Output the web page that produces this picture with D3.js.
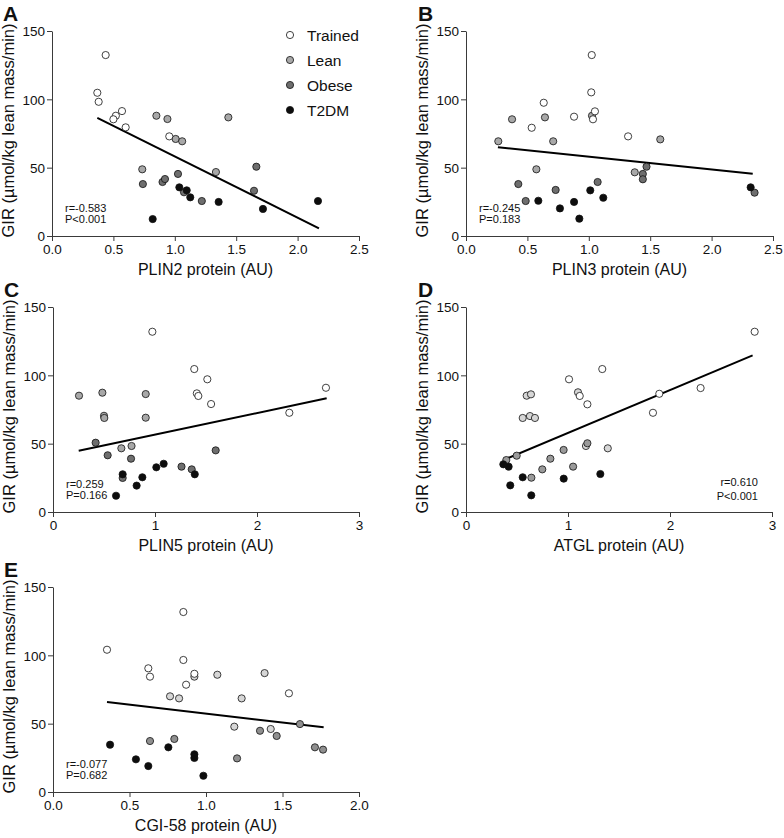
<!DOCTYPE html>
<html><head><meta charset="utf-8">
<script src="https://cdn.jsdelivr.net/npm/d3@7"></script>
<style>body{margin:0;background:#fff}svg{display:block}text{font-family:"Liberation Sans",Arial,sans-serif}</style>
</head><body>
<script>
// ---- Data (x = protein AU, y = GIR) ----
const groups = ["Trained", "Lean", "Obese", "T2DM"];
const yTicks = [0, 50, 100, 150];

// Panel A: PLIN2
const plin2_trained = [[0.437,132.4],[0.369,104.8],[0.38,98.2],[0.57,91.4],[0.52,88],[0.50,85.4],[0.60,79.5],[0.955,72.9]];
const plin2_lean = [[0.85,88],[0.94,85.6],[1.436,86.8],[1.007,71],[1.06,69.3],[0.735,48.8],[1.335,46.8]];
const plin2_obese = [[0.74,38],[0.90,39.5],[0.92,41.7],[1.026,45.4],[1.075,32],[1.22,25.6],[1.664,50.7],[1.645,33.1]];
const plin2_t2dm = [[1.037,35.6],[1.097,33.4],[1.126,28.3],[1.357,24.9],[0.82,12.4],[1.718,19.8],[2.166,25.6]];
const plin2_fit = [[0.369,86.5],[2.174,5.6]];

// Panel B: PLIN3
const plin3_trained = [[1.024,132.4],[1.02,105.1],[0.633,97.5],[1.05,91.2],[0.88,87.3],[1.034,85.4],[0.535,79.2],[1.32,72.9]];
const plin3_lean = [[1.026,88],[0.375,85.4],[0.643,86.8],[0.263,69.3],[0.71,69.3],[0.573,48.8],[1.582,70.7],[1.374,46.6]];
const plin3_obese = [[0.426,38],[0.73,33.7],[0.486,25.6],[1.072,39.5],[1.44,45.4],[1.44,41.5],[1.47,50.7],[2.35,31.7]];
const plin3_t2dm = [[0.589,25.8],[0.765,20.2],[0.88,24.9],[1.012,33.4],[1.118,28],[0.923,12.7],[2.318,35.6]];
const plin3_fit = [[0.26,65],[2.335,45.6]];

// Panel C: PLIN5
const plin5_trained = [[0.974,131.9],[1.385,104.6],[1.513,97.1],[1.41,86.8],[1.425,84.9],[1.55,79],[2.317,72.6],[2.676,90.9]];
const plin5_lean = [[0.255,85.1],[0.484,87.3],[0.909,86.3],[0.5,70.4],[0.503,68.8],[0.909,69],[0.67,46.6],[0.77,48.3]];
const plin5_obese = [[0.418,50.7],[0.536,41.5],[0.765,39],[0.683,24.9],[1.26,33.2],[1.36,31.2],[1.595,45.1]];
const plin5_t2dm = [[0.683,27.6],[0.876,25.4],[0.82,19.3],[1.013,32.7],[1.085,35.3],[1.39,27.6],[0.618,11.9]];
const plin5_fit = [[0.252,44.8],[2.683,83.2]];

// Panel D: ATGL
const atgl_trained = [[2.83,131.9],[1.336,104.6],[1.01,97.1],[2.3,90.7],[1.895,86.5],[1.115,84.9],[1.19,78.8],[1.833,72.6]];
const atgl_lean = [[1.098,87.6],[0.595,85.1],[0.637,86.1],[0.556,68.8],[0.627,70.2],[0.676,68.8],[1.176,48.3],[1.39,46.6]];
const atgl_obese = [[0.497,41.2],[0.395,38],[0.827,39],[0.957,45.4],[0.748,31.2],[1.05,33.2],[1.19,50.3],[0.641,25.1]];
const atgl_t2dm = [[0.366,34.9],[0.418,33.2],[0.556,25.4],[0.434,19.5],[0.64,12.2],[0.958,24.4],[1.317,27.8]];
const atgl_fit = [[0.39,38.8],[2.81,114.6]];

// Panel E: CGI-58
const cgi58_trained = [[0.852,131.7],[0.353,104.1],[0.852,96.6],[0.623,90.5],[0.634,84.4],[0.924,86.5],[0.87,78.5],[1.542,72.2]];
const cgi58_lean = [[0.924,84.4],[1.074,85.8],[1.383,87],[0.765,70],[0.824,68.5],[1.233,68.5],[1.185,47.8],[1.423,46.1]];
const cgi58_obese = [[1.353,44.8],[1.462,41],[1.614,49.7],[1.712,32.7],[1.765,31],[1.203,24.6],[0.634,37.3],[0.793,38.8]];
const cgi58_t2dm = [[0.373,34.6],[0.542,23.9],[0.623,19],[0.754,32.7],[0.924,27.6],[0.924,24.9],[0.983,11.9]];
const cgi58_fit = [[0.353,65.8],[1.769,47.3]];

const panelLetters = ["A","B","C","D","E"];
const xTitles = ["PLIN2 protein (AU)","PLIN3 protein (AU)","PLIN5 protein (AU)","ATGL protein (AU)","CGI-58 protein (AU)"];
const xMaxes = [2.5, 2.5, 3, 3, 2];
const xTickSets = [[0,0.5,1,1.5,2,2.5],[0,0.5,1,1.5,2,2.5],[0,1,2,3],[0,1,2,3],[0,0.5,1,1.5,2]];
const stats = [["r=-0.583","P<0.001"],["r=-0.245","P=0.183"],["r=0.259","P=0.166"],["r=0.610","P<0.001"],["r=-0.077","P=0.682"]];

// ---- Layout ----
const frames = [
  {l:52, r:359, t:31, b:236, fmt:".1f", statPos:"left", palette:["#ffffff","#a8a8a8","#6e6e6e","#0d0d0d"]},
  {l:466, r:773, t:31, b:236, fmt:".1f", statPos:"left", palette:["#ffffff","#a8a8a8","#6e6e6e","#0d0d0d"]},
  {l:53, r:359, t:307, b:512, fmt:"d", statPos:"left", palette:["#ffffff","#a8a8a8","#6e6e6e","#0d0d0d"]},
  {l:466, r:772, t:307, b:512, fmt:"d", statPos:"right", palette:["#ffffff","#d6d6d6","#9a9a9a","#0d0d0d"]},
  {l:53, r:359, t:587, b:792, fmt:".1f", statPos:"left", palette:["#ffffff","#d6d6d6","#8f8f8f","#0d0d0d"]}
];
const panelData = [
  [plin2_trained, plin2_lean, plin2_obese, plin2_t2dm, plin2_fit],
  [plin3_trained, plin3_lean, plin3_obese, plin3_t2dm, plin3_fit],
  [plin5_trained, plin5_lean, plin5_obese, plin5_t2dm, plin5_fit],
  [atgl_trained, atgl_lean, atgl_obese, atgl_t2dm, atgl_fit],
  [cgi58_trained, cgi58_lean, cgi58_obese, cgi58_t2dm, cgi58_fit]
];

const svg = d3.select("body").append("svg").attr("width",784).attr("height",838);
const axisColor = "#3a3a3a";

frames.forEach((f, i) => {
  const x = d3.scaleLinear().domain([0, xMaxes[i]]).range([f.l, f.r]);
  const y = d3.scaleLinear().domain([0, 150]).range([f.b, f.t]);
  const g = svg.append("g");

  // axes
  const xa = g.append("g").attr("transform",`translate(0,${f.b})`)
    .call(d3.axisBottom(x).tickValues(xTickSets[i]).tickFormat(d3.format(f.fmt)).tickSize(5).tickSizeOuter(0));
  const ya = g.append("g").attr("transform",`translate(${f.l},0)`)
    .call(d3.axisLeft(y).tickValues(yTicks).tickSize(5).tickSizeOuter(0));
  [xa, ya].forEach(a => {
    a.select(".domain").attr("stroke", axisColor).attr("stroke-width",1);
    a.selectAll(".tick line").attr("stroke", axisColor).attr("stroke-width",1);
    a.selectAll(".tick text").attr("fill","#111").style("font-size","13.5px")
      .style("font-family",'"Liberation Sans",Arial,sans-serif');
  });
  xa.selectAll(".tick text").attr("dy",null).attr("y",18);
  ya.selectAll(".tick text").attr("x",-7).attr("dy","0.36em");

  // titles
  g.append("text").attr("x",(f.l+f.r)/2).attr("y",f.b+39).attr("text-anchor","middle")
    .style("font-size","16px").attr("fill","#111").text(xTitles[i]);
  const labX = f.l - 38;
  const labY = (f.t + f.b)/2 - 3;
  g.append("text").attr("transform",`translate(${labX},${labY}) rotate(-90)`).attr("text-anchor","middle")
    .style("font-size","16.5px").attr("fill","#111").text("GIR (µmol/kg lean mass/min)");
  g.append("text").attr("x", f.l - 49 + (i%2===1 ? 1 : 0)).attr("y", f.t - 10)
    .style("font-size","21px").style("font-weight","bold").attr("fill","#111").text(panelLetters[i]);

  // stats text
  if (f.statPos === "left") {
    g.append("text").attr("x", f.l + 13).attr("y", f.b - 24).style("font-size","11px").attr("fill","#111").text(stats[i][0]);
    g.append("text").attr("x", f.l + 13).attr("y", f.b - 13).style("font-size","11px").attr("fill","#111").text(stats[i][1]);
  } else {
    g.append("text").attr("x", f.r - 14).attr("y", f.b - 26).attr("text-anchor","end").style("font-size","11px").attr("fill","#111").text(stats[i][0]);
    g.append("text").attr("x", f.r - 14).attr("y", f.b - 12).attr("text-anchor","end").style("font-size","11px").attr("fill","#111").text(stats[i][1]);
  }

  // fit line
  const fit = panelData[i][4];
  g.append("path").datum(fit)
    .attr("d", d3.line().x(d => x(d[0])).y(d => y(d[1])))
    .attr("stroke","#000").attr("stroke-width",2).attr("fill","none");

  // points: draw order lean, obese, trained, t2dm
  [1,2,0,3].forEach(k => {
    g.append("g").selectAll("circle").data(panelData[i][k]).join("circle")
      .attr("cx", d => x(d[0])).attr("cy", d => y(d[1])).attr("r",3.6)
      .attr("fill", f.palette[k]).attr("stroke","#111").attr("stroke-width",0.8);
  });

  // legend (panel A only)
  if (i === 0) {
    const leg = g.append("g");
    groups.forEach((name, k) => {
      const ly = 35 + k*25;
      leg.append("circle").attr("cx",290).attr("cy",ly).attr("r",3.6)
        .attr("fill", f.palette[k]).attr("stroke","#111").attr("stroke-width",0.8);
      leg.append("text").attr("x",307).attr("y",ly).attr("dy","0.36em")
        .style("font-size","15.5px").attr("fill","#111").text(name);
    });
  }
});
</script>
</body></html>
